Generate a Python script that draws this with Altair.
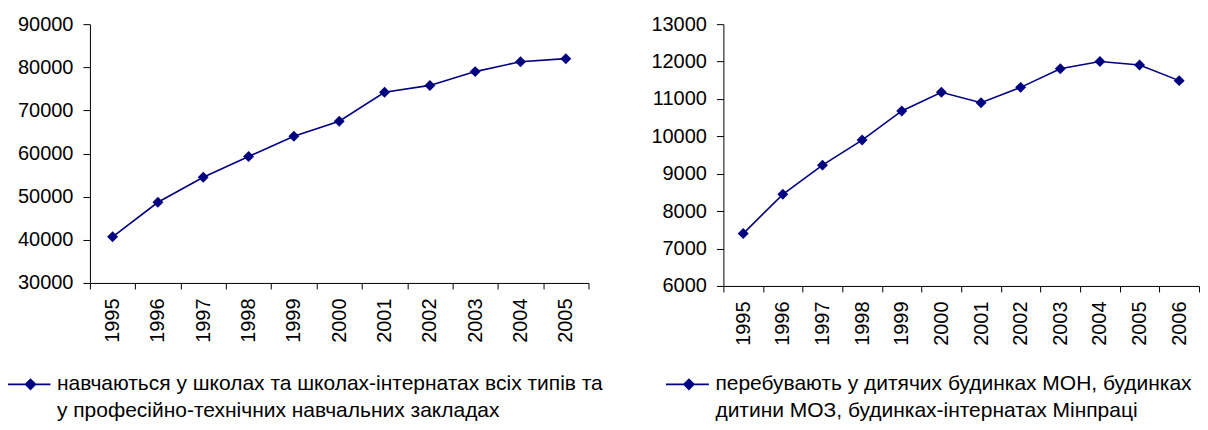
import altair as alt
import pandas as pd

# ---- data ----
years_a = ["1995", "1996", "1997", "1998", "1999", "2000", "2001", "2002", "2003", "2004", "2005"]
values_a = [40700, 48700, 54500, 59300, 64000, 67500, 74200, 75800, 79000, 81300, 82000]
label_a = ["навчаються у школах та школах-інтернатах всіх типів та",
           "у професійно-технічних навчальних закладах"]

years_b = ["1995", "1996", "1997", "1998", "1999", "2000", "2001", "2002", "2003", "2004", "2005", "2006"]
values_b = [7400, 8450, 9230, 9900, 10680, 11180, 10900, 11310, 11810, 12000, 11910, 11490]
label_b = ["перебувають у дитячих будинках МОН, будинках",
           "дитини МОЗ, будинках-інтернатах Мінпраці"]

yticks_a = [30000, 40000, 50000, 60000, 70000, 80000, 90000]
yticks_b = [6000, 7000, 8000, 9000, 10000, 11000, 12000, 13000]

NAVY = "#000080"
FONT = "Liberation Sans"
# legend symbol: a short line with a diamond on it
SYMBOL = "M-1.83,0L5.33,0M1.17,0L2,-0.83L2.83,0L2,0.83Z"


def panel(years, values, label_lines, yticks, width, height, lx, ly):
    df = pd.DataFrame({"year": years, "value": values,
                       "series": [label_lines[0]] * len(years)})
    x = alt.X(
        "year:O",
        sort=None,
        scale=alt.Scale(type="band", paddingInner=0, paddingOuter=0),
        axis=alt.Axis(title=None, labelAngle=-90, tickBand="extent", tickSize=6,
                      labelPadding=9, labelOverlap=False),
    )
    y = alt.Y(
        "value:Q",
        scale=alt.Scale(domain=[yticks[0], yticks[-1]], nice=False, zero=False),
        axis=alt.Axis(title=None, values=yticks, format="d", tickSize=7,
                      labelPadding=10, labelOverlap=False, grid=False),
    )
    color = alt.Color(
        "series:N",
        scale=alt.Scale(domain=label_lines, range=[NAVY, "transparent"]),
        legend=alt.Legend(
            title=None, orient="none", legendX=lx, legendY=ly,
            symbolType=SYMBOL, symbolSize=144, symbolStrokeWidth=1.6,
            symbolOpacity=1,
            labelFont=FONT, labelFontSize=21, labelColor="#000000",
            labelLimit=800, labelOffset=28, padding=0, rowPadding=5,
        ),
    )
    base = alt.Chart(df).encode(x=x, y=y, color=color)
    line = base.mark_line(strokeWidth=1.6)
    pts = base.mark_point(shape="diamond", filled=True, size=120, opacity=1)
    return alt.layer(line, pts).properties(width=width, height=height)


left = panel(years_a, values_a, label_a, yticks_a, 499, 259, -82, 350)
right = panel(years_b, values_b, label_b, yticks_b, 476, 262, -57, 350)

chart = (
    alt.hconcat(left, right, spacing=135, bounds="flush")
    .resolve_scale(color="independent", y="independent", x="independent")
    .properties(padding={"left": 0, "top": 6, "right": 0, "bottom": 0})
    .configure_view(stroke=None)
    .configure_axis(
        domainColor="#000000", tickColor="#000000", labelColor="#000000",
        labelFont=FONT, labelFontSize=20, domainWidth=1, tickWidth=1,
    )
)

chart.save("out.html", embed_options={"renderer": "svg", "actions": False})
